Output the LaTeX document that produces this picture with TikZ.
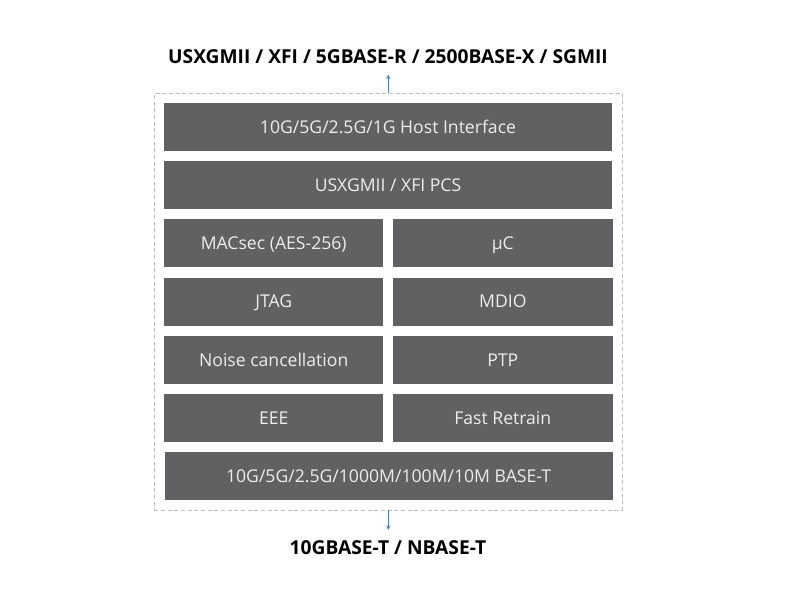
\documentclass[tikz,border=0pt]{standalone}
\usepackage{fontspec}
\setmainfont{Open Sans}
\usetikzlibrary{arrows.meta,fit,positioning}
\definecolor{blockgray}{HTML}{616163}
\definecolor{framegray}{HTML}{BDBDBD}
\definecolor{linkblue}{HTML}{4A7FB5}
\begin{document}
\begin{tikzpicture}[% styles shared by all nodes, override case-by-case
		every node/.style={
			align=center,	% "\\" works inside nodes
			inner sep=0pt
		},
		block/.style={rectangle,fill=blockgray,text=white!93!black,minimum height=36pt,
			text height=9.5pt,text depth=0pt,font=\fontsize{13.2}{15}\selectfont},
		wide/.style={block,minimum width=336pt},
		half/.style={block,minimum width=164.6pt},
		port/.style={font=\bfseries\fontsize{14.4}{16}\selectfont},
		every edge/.style={draw=linkblue,semithick,-{Stealth[length=3.5pt,width=3pt]}}
	]
	\useasboundingbox (0,0) rectangle (600pt,450pt);
	\node[wide](R1) at (291pt,354.75pt){10G/5G/2.5G/1G Host Interface};
	\node[wide](R2)[below=7.25pt of R1]{USXGMII / XFI PCS};
	\node[half](R3)[below right=7.25pt and 0pt of R2.south west]{MACsec (AES-256)};
	\node[half](R4)[right=6.8pt of R3]{µC};
	\node[half](R5)[below=7.25pt of R3]{JTAG};
	\node[half](R6)[below=7.25pt of R4]{MDIO};
	\node[half](R7)[below=7.25pt of R5]{Noise cancellation};
	\node[half](R8)[below=7.25pt of R6]{PTP};
	\node[half](R9)[below=7.25pt of R7]{EEE};
	\node[half](R10)[below=7.25pt of R8]{Fast Retrain};
	\node[wide](R11)[below left=7.25pt and 0pt of R10.south east]{10G/5G/2.5G/1000M/100M/10M BASE-T};
	\node[draw=framegray,dashed,dash pattern=on 3pt off 2pt,inner sep=7pt,fit=(R1)(R11)](F){};
	\coordinate (Hin) at ([yshift=14pt]F.north);
	\coordinate (Lout) at ([yshift=-15pt]F.south);
	\node[port](HOST) at (291pt,407.25pt){USXGMII / XFI / 5GBASE-R / 2500BASE-X / SGMII};
	\node[port](LINE) at (291pt,39pt){10GBASE-T / NBASE-T};
	\path
	(F.north)edge [] (Hin)
	(F.south)edge [] (Lout)
	;
\end{tikzpicture}
\end{document}
